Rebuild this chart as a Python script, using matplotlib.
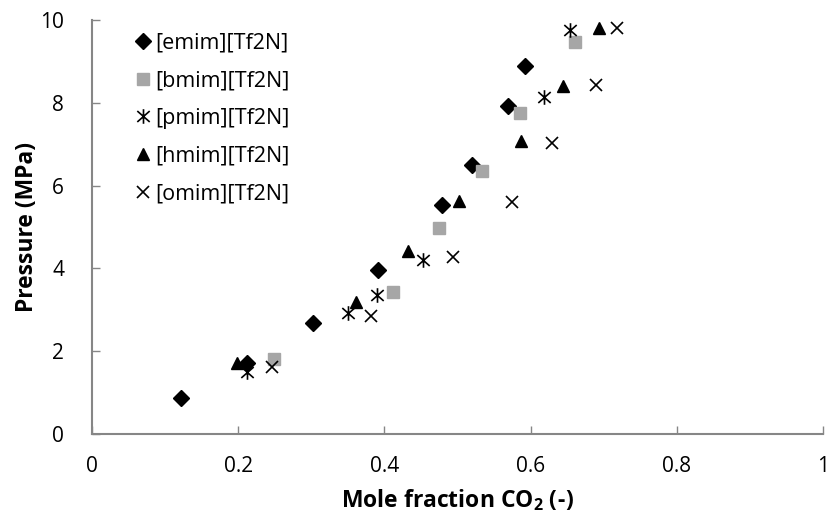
import matplotlib
matplotlib.use("Agg")
import matplotlib.pyplot as plt
from matplotlib.path import Path

plt.rcParams['font.family'] = ['Open Sans', 'DejaVu Sans']
plt.rcParams['mathtext.fontset'] = 'custom'
plt.rcParams['mathtext.rm'] = 'Open Sans'
plt.rcParams['mathtext.bf'] = 'Open Sans:bold'

emim_x = [0.122, 0.212, 0.302, 0.391, 0.479, 0.520, 0.569, 0.593]
emim_y = [0.87, 1.71, 2.68, 3.96, 5.53, 6.50, 7.92, 8.89]
bmim_x = [0.249, 0.412, 0.475, 0.534, 0.586, 0.661]
bmim_y = [1.81, 3.42, 4.98, 6.35, 7.75, 9.47]
pmim_x = [0.212, 0.350, 0.390, 0.453, 0.618, 0.654]
pmim_y = [1.50, 2.92, 3.36, 4.20, 8.14, 9.76]
hmim_x = [0.198, 0.361, 0.432, 0.502, 0.587, 0.645, 0.693]
hmim_y = [1.72, 3.20, 4.42, 5.62, 7.07, 8.40, 9.80]
omim_x = [0.246, 0.382, 0.494, 0.574, 0.629, 0.689, 0.718]
omim_y = [1.62, 2.85, 4.27, 5.60, 7.03, 8.43, 9.80]

labels = ['[emim][Tf2N]', '[bmim][Tf2N]', '[pmim][Tf2N]', '[hmim][Tf2N]', '[omim][Tf2N]']
x_ticks = [0, 0.2, 0.4, 0.6, 0.8, 1]
x_ticklabels = ['0', '0.2', '0.4', '0.6', '0.8', '1']
y_ticks = [0, 2, 4, 6, 8, 10]

# asterisk marker: X with a vertical bar
star_path = Path(
    [(0, -1), (0, 1), (-0.85, -0.75), (0.85, 0.75), (-0.85, 0.75), (0.85, -0.75)],
    [Path.MOVETO, Path.LINETO, Path.MOVETO, Path.LINETO, Path.MOVETO, Path.LINETO])

fig = plt.figure(figsize=(8.27, 5.2), dpi=100)
ax = fig.add_axes([92/827, 86/520, 731/827, 414/520])

ax.plot(emim_x, emim_y, 'D', color='black', markersize=8.5, linestyle='none', label=labels[0])
ax.plot(bmim_x, bmim_y, 's', color='#A6A6A6', markersize=9, linestyle='none', label=labels[1])
ax.plot(pmim_x, pmim_y, linestyle='none', marker=star_path, color='black', markersize=10.5,
        markerfacecolor='none', markeredgewidth=1.2, label=labels[2])
ax.plot(hmim_x, hmim_y, '^', color='black', markersize=9, linestyle='none', label=labels[3])
ax.plot(omim_x, omim_y, 'x', color='black', markersize=9, markeredgewidth=1.2,
        linestyle='none', label=labels[4])

ax.set_xlim(0, 1)
ax.set_ylim(0, 10)
ax.set_xticks(x_ticks)
ax.set_xticklabels(x_ticklabels)
ax.set_yticks(y_ticks)

for s in ['top', 'right']:
    ax.spines[s].set_visible(False)
for s in ['left', 'bottom']:
    ax.spines[s].set_color('#868686')
    ax.spines[s].set_linewidth(1.5)
ax.tick_params(direction='in', length=6, width=1, color='#868686', labelsize=15,
               labelcolor='black')
ax.tick_params(axis='x', pad=16)
ax.tick_params(axis='y', pad=20)

ax.set_xlabel('Mole fraction CO$_\\mathbf{2}$ (-)', fontsize=16.5, fontweight='bold', labelpad=7)
ax.set_ylabel('Pressure (MPa)', fontsize=16.5, fontweight='bold', labelpad=1)

leg = ax.legend(loc='upper left', bbox_to_anchor=(0.047, 0.991), frameon=False, fontsize=15.5,
                handlelength=0.7, handletextpad=0.25, labelspacing=0.78, borderaxespad=0)

fig.savefig('out.png', dpi=100)
